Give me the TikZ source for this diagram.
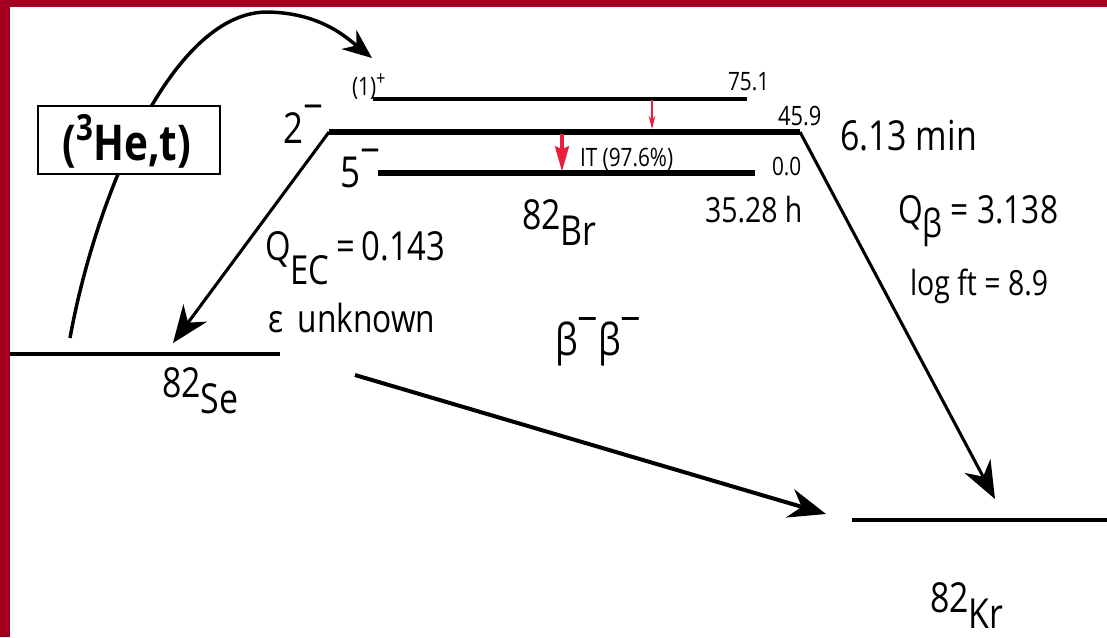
\documentclass[tikz,border=0pt]{standalone}
\usepackage{fontspec}
\setmainfont{Open Sans}[FakeStretch=0.82]
\usetikzlibrary{arrows.meta}
\definecolor{bgred}{RGB}{163,0,33}
\definecolor{itred}{RGB}{232,32,60}
\newcommand{\fs}[1]{\fontsize{#1}{#1}\selectfont}
\begin{document}
\begin{tikzpicture}[x=0.75pt,y=-0.75pt,
  lbl/.style={anchor=base west, inner sep=0pt, outer sep=0pt},
  thinlevel/.style={line width=2.3pt},
  level/.style={line width=5pt},
  gslevel/.style={line width=3.5pt},
  decay/.style={line width=2.3pt, -{Stealth[length=28pt,width=22pt,inset=9pt]}},
  reac/.style={line width=2.6pt, -{Stealth[length=22pt,width=18pt,inset=7pt]}},
  rbox/.style={draw, line width=1.1pt, fill=white, minimum width=136.5pt, minimum height=51pt, inner sep=0pt}
]
\fill[bgred] (0,0) rectangle (1107,637);
\fill[white] (10,7) rectangle (1107,637);
\useasboundingbox (0,0) rectangle (1107,637);

% key points
\coordinate (L1a) at (373,99);  \coordinate (L1b) at (747,99);
\coordinate (L2a) at (329,132); \coordinate (L2b) at (800,132);
\coordinate (L5a) at (378,173); \coordinate (L5b) at (755,173);
\coordinate (Sea) at (10,354);  \coordinate (Seb) at (280,354);
\coordinate (Kra) at (852,520); \coordinate (Krb) at (1107,520);
\coordinate (ECtip) at (173,343);
\coordinate (Btip) at (995,499);
\coordinate (BBs) at (355,375); \coordinate (BBt) at (826,514);
\coordinate (Cs) at (70,338);   \coordinate (Ct) at (372,58);
\coordinate (ITs) at (562,134); \coordinate (ITt) at (562,172);
\coordinate (ts) at (652,100);  \coordinate (tt) at (652,129);

% reaction curve (behind the box)
\draw[reac] (Cs) .. controls (95,200) and (170,15) .. (265,12) .. controls (320,12) and (347,38) .. (Ct);
\node[rbox] (rx) at (129,140) {};
\node[inner sep=0pt] (rxt) at (127,141) {\bfseries\fs{37pt}(\raisebox{0.4em}{\fs{27pt}3}He,t)};

% levels
\draw[thinlevel] (L1a) -- (L1b);
\draw[level] (L2a) -- (L2b);
\draw[level] (L5a) -- (L5b);
\draw[gslevel] (Sea) -- (Seb);
\draw[gslevel] (Kra) -- (Krb);

% decays
\draw[decay] (L2a) -- (ECtip);
\draw[decay] (L2b) -- (Btip);
\draw[decay, line width=3pt] (BBs) -- (BBt);
\draw[itred, line width=3.6pt, -{Stealth[length=19pt,width=10pt,inset=2pt]}] (ITs) -- (ITt);
\draw[itred, line width=0.9pt, -{Stealth[length=10pt,width=5pt]}] (ts) -- (tt);

% labels
\node[lbl] (j1) at (352,95) {\fs{19pt}(1)\raisebox{0.38em}{\fs{15pt}+}};
\node[lbl] (e751) at (728,90) {\fs{19pt}75.1};
\node[lbl] (e459) at (778,125) {\fs{20pt}45.9};
\node[lbl] (t613) at (840,150) {\fs{31pt}6.13 min};
\node[lbl] (j2) at (283,143) {\fs{32pt}2\raisebox{0.5em}{−}};
\node[lbl] (j5) at (340,187) {\fs{32pt}5\raisebox{0.5em}{−}};
\node[lbl] (e00) at (772,175) {\fs{19pt}0.0};
\node[lbl] (it) at (580,166) {\fs{19pt}IT (97.6\%)};
\node[lbl] (br) at (522,229) {\fs{31pt}82\raisebox{-0.4em}{Br}};
\node[lbl] (t3528) at (705,222) {\fs{26pt}35.28 h};
\node[lbl] (qec) at (265,260) {\fs{30pt}Q\raisebox{-0.6em}{EC}\,=\,0.143};
\node[lbl] (eps) at (268,332) {\fs{29pt}ε\, unknown};
\node[lbl] (bb) at (555,355) {\fs{33pt}β\raisebox{0.47em}{−}β\raisebox{0.47em}{−}};
\node[lbl] (se) at (162,397) {\fs{31pt}82\raisebox{-0.4em}{Se}};
\node[lbl] (qb) at (898,223) {\fs{29pt}Q\raisebox{-0.37em}{β} = 3.138};
\node[lbl] (lft) at (910,295) {\fs{26pt}log ft = 8.9};
\node[lbl] (kr) at (930,612) {\fs{31pt}82\raisebox{-0.4em}{Kr}};
\end{tikzpicture}
\end{document}
